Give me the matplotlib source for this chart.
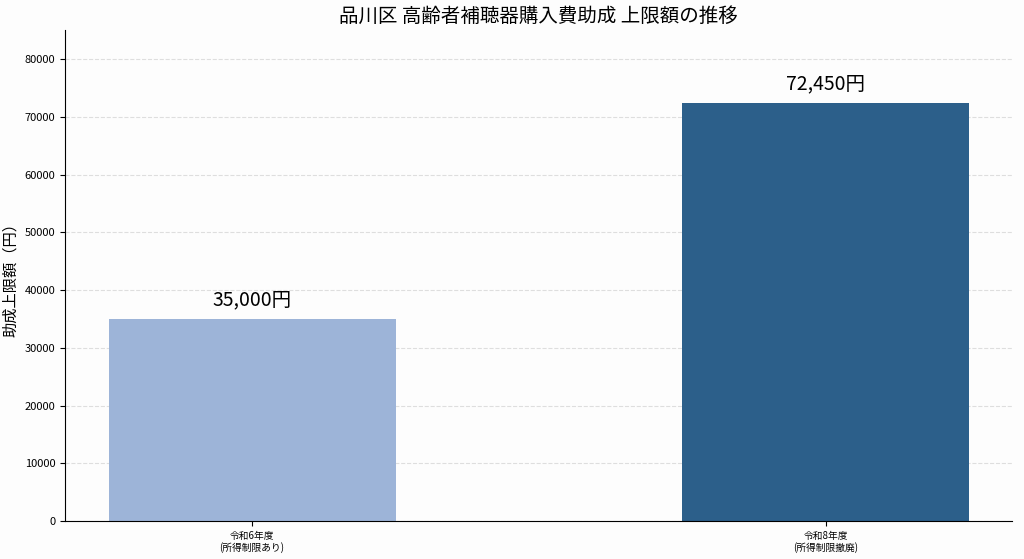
import matplotlib
matplotlib.use("Agg")
import matplotlib.pyplot as plt

plt.rcParams['font.family'] = ['Noto Sans CJK JP', 'DejaVu Sans']

categories = ["令和6年度\n(所得制限あり)", "令和8年度\n(所得制限撤廃)"]
amounts = [35000, 72450]
labels = ["35,000円", "72,450円"]
colors = ["#9db4d8", "#2c5f8a"]

fig, ax = plt.subplots(figsize=(10.24, 5.59), dpi=100)
fig.subplots_adjust(left=0.0635, right=0.988, top=0.946, bottom=0.068)
fig.patch.set_facecolor("#fdfdfd")
ax.set_facecolor("#fdfdfd")

x = list(range(len(categories)))
ax.bar(x, amounts, width=0.5, color=colors, zorder=2)
for xi, v, t in zip(x, amounts, labels):
    ax.text(xi, v + 1500, t, ha="center", va="bottom", fontsize=14)

ax.set_xticks(x)
ax.set_xticklabels(categories, fontsize=7, linespacing=1.1)
ax.set_xlim(-0.326, 1.324)
ax.set_ylim(0, 85000)
ax.set_yticks(range(0, 80001, 10000))
ax.tick_params(axis="y", labelsize=8)
ax.set_ylabel("助成上限額（円）", fontsize=11)
ax.set_title("品川区 高齢者補聴器購入費助成 上限額の推移", fontsize=14)
ax.grid(axis="y", linestyle="--", alpha=0.4, zorder=0)
ax.spines["top"].set_visible(False)
ax.spines["right"].set_visible(False)

fig.savefig("out.png", facecolor=fig.get_facecolor())
